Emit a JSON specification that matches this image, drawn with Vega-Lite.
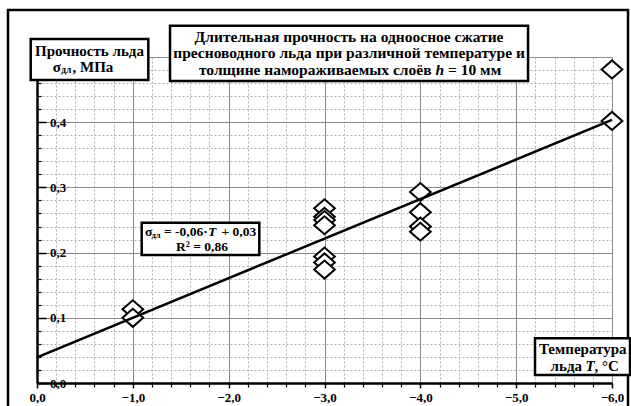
{
  "$schema": "https://vega.github.io/schema/vega-lite/v6.json",
  "width": 575,
  "height": 326,
  "autosize": {"type": "none"},
  "padding": {"left": 37, "top": 57, "right": 19, "bottom": 23},
  "background": "white",
  "config": {"view": {"stroke": "#8c8c8c", "strokeWidth": 1}, "font": "Liberation Serif"},
  "datasets": {
    "points": [
      {"T": -1, "sigma": 0.113},
      {"T": -1, "sigma": 0.100},
      {"T": -3, "sigma": 0.268},
      {"T": -3, "sigma": 0.255},
      {"T": -3, "sigma": 0.250},
      {"T": -3, "sigma": 0.242},
      {"T": -3, "sigma": 0.194},
      {"T": -3, "sigma": 0.185},
      {"T": -3, "sigma": 0.174},
      {"T": -4, "sigma": 0.293},
      {"T": -4, "sigma": 0.262},
      {"T": -4, "sigma": 0.240},
      {"T": -4, "sigma": 0.232},
      {"T": -6, "sigma": 0.481},
      {"T": -6, "sigma": 0.402}
    ],
    "trend": [
      {"T": 0, "sigma": 0.0394},
      {"T": -6, "sigma": 0.4035}
    ],
    "one": [{}]
  },
  "resolve": {"axis": {"x": "independent", "y": "independent"}},
  "layer": [
    {
      "data": {"name": "points"},
      "mark": {"type": "point", "shape": "M-1.15,0L0,-1L1.15,0L0,1Z", "size": 324, "filled": true, "fill": "white", "stroke": "black", "strokeWidth": 2, "opacity": 1},
      "encoding": {
        "x": {
          "field": "T", "type": "quantitative",
          "scale": {"domain": [-6, 0], "reverse": true, "nice": false, "zero": false},
          "axis": {
            "orient": "bottom", "values": [0, -1, -2, -3, -4, -5, -6], "title": null,
            "grid": true, "gridColor": "#8c8c8c", "gridWidth": 1,
            "domain": true, "domainColor": "black", "domainWidth": 2.5,
            "ticks": true, "tickColor": "black", "tickWidth": 1.5, "tickSize": 5,
            "labelExpr": "replace(format(datum.value, '.1f'), '.', ',')",
            "labelFont": "Liberation Serif", "labelFontWeight": "bold", "labelFontSize": 13, "labelColor": "black",
            "labelPadding": 3, "labelFlush": false, "labelOverlap": false, "labelBound": false
          }
        },
        "y": {
          "field": "sigma", "type": "quantitative",
          "scale": {"domain": [0, 0.5], "nice": false, "zero": false},
          "axis": {
            "orient": "left", "values": [0, 0.1, 0.2, 0.3, 0.4], "title": null,
            "grid": true, "gridColor": "#8c8c8c", "gridWidth": 1,
            "domain": true, "domainColor": "black", "domainWidth": 2.5,
            "ticks": true, "tickColor": "black", "tickWidth": 1.5, "tickSize": -9,
            "labelExpr": "replace(format(datum.value, '.1f'), '.', ',')",
            "labelFont": "Liberation Serif", "labelFontWeight": "bold", "labelFontSize": 13, "labelColor": "black",
            "labelAlign": "left", "labelBaseline": "middle", "labelPadding": -3.5,
            "labelFlush": false, "labelOverlap": false, "labelBound": false
          }
        }
      }
    },
    {
      "data": {"name": "trend"},
      "mark": {"type": "line", "color": "black", "strokeWidth": 2.5},
      "encoding": {
        "x": {
          "field": "T", "type": "quantitative",
          "axis": {
            "orient": "bottom", "title": null,
            "values": [-0.2, -0.4, -0.6, -0.8, -1.2, -1.4, -1.6, -1.8, -2.2, -2.4, -2.6, -2.8, -3.2, -3.4, -3.6, -3.8, -4.2, -4.4, -4.6, -4.8, -5.2, -5.4, -5.6, -5.8],
            "grid": true, "gridColor": "#b0b0b0", "gridDash": [2, 2], "gridWidth": 1,
            "domain": false, "labels": false,
            "ticks": true, "tickColor": "black", "tickWidth": 1.2, "tickSize": 4
          }
        },
        "y": {
          "field": "sigma", "type": "quantitative",
          "axis": {
            "orient": "left", "title": null,
            "values": [0.02, 0.04, 0.06, 0.08, 0.12, 0.14, 0.16, 0.18, 0.22, 0.24, 0.26, 0.28, 0.32, 0.34, 0.36, 0.38, 0.42, 0.44, 0.46, 0.48],
            "grid": true, "gridColor": "#b0b0b0", "gridDash": [2, 2], "gridWidth": 1,
            "domain": false, "labels": false,
            "ticks": true, "tickColor": "black", "tickWidth": 1.2, "tickSize": -4
          }
        }
      }
    },
    {
      "data": {"name": "one"},
      "mark": {"type": "rect", "fill": "white", "fillOpacity": 0, "stroke": "black", "strokeWidth": 2.5},
      "encoding": {
        "x": {"datum": 0.3026, "type": "quantitative", "axis": null},
        "x2": {"datum": -6.167},
        "y": {"datum": 0.5721, "type": "quantitative", "axis": null},
        "y2": {"datum": -0.0567}
      }
    },
    {
      "data": {"name": "one"},
      "mark": {"type": "rect", "fill": "white", "stroke": "black", "strokeWidth": 2.5},
      "encoding": {
        "x": {"datum": -1.388, "type": "quantitative", "axis": null},
        "x2": {"datum": -5.124},
        "y": {"datum": 0.548, "type": "quantitative", "axis": null},
        "y2": {"datum": 0.4632}
      }
    },
    {
      "data": {"name": "one"},
      "mark": {"type": "text", "font": "Liberation Serif", "fontWeight": "bold", "fontSize": 15.5, "align": "center", "baseline": "middle", "color": "black"},
      "encoding": {
        "x": {"datum": -3.256, "type": "quantitative", "axis": null},
        "y": {"datum": 0.5314, "type": "quantitative", "axis": null},
        "text": {"value": "Длительная прочность на одноосное сжатие"}
      }
    },
    {
      "data": {"name": "one"},
      "mark": {"type": "text", "font": "Liberation Serif", "fontWeight": "bold", "fontSize": 15.5, "align": "center", "baseline": "middle", "color": "black"},
      "encoding": {
        "x": {"datum": -3.256, "type": "quantitative", "axis": null},
        "y": {"datum": 0.5058, "type": "quantitative", "axis": null},
        "text": {"value": "пресноводного льда при различной температуре и"}
      }
    },
    {
      "data": {"name": "one"},
      "mark": {"type": "text", "font": "Liberation Serif", "fontWeight": "bold", "fontSize": 15.5, "align": "right", "baseline": "middle", "color": "black"},
      "encoding": {
        "x": {"datum": -4.1166, "type": "quantitative", "axis": null},
        "y": {"datum": 0.4804, "type": "quantitative", "axis": null},
        "text": {"value": "толщине намораживаемых слоёв"}
      }
    },
    {
      "data": {"name": "one"},
      "mark": {"type": "text", "font": "Liberation Serif", "fontWeight": "bold", "fontStyle": "italic", "fontSize": 15.5, "align": "left", "baseline": "middle", "color": "black"},
      "encoding": {
        "x": {"datum": -4.1584, "type": "quantitative", "axis": null},
        "y": {"datum": 0.4804, "type": "quantitative", "axis": null},
        "text": {"value": "h"}
      }
    },
    {
      "data": {"name": "one"},
      "mark": {"type": "text", "font": "Liberation Serif", "fontWeight": "bold", "fontSize": 15.5, "align": "left", "baseline": "middle", "color": "black"},
      "encoding": {
        "x": {"datum": -4.2889, "type": "quantitative", "axis": null},
        "y": {"datum": 0.4804, "type": "quantitative", "axis": null},
        "text": {"value": "= 10 мм"}
      }
    },
    {
      "data": {"name": "one"},
      "mark": {"type": "rect", "fill": "white", "stroke": "black", "strokeWidth": 2.5},
      "encoding": {
        "x": {"datum": 0.0657, "type": "quantitative", "axis": null},
        "x2": {"datum": -1.1614},
        "y": {"datum": 0.5276, "type": "quantitative", "axis": null},
        "y2": {"datum": 0.4647}
      }
    },
    {
      "data": {"name": "one"},
      "mark": {"type": "text", "font": "Liberation Serif", "fontWeight": "bold", "fontSize": 15, "align": "center", "baseline": "middle", "color": "black"},
      "encoding": {
        "x": {"datum": -0.5478, "type": "quantitative", "axis": null},
        "y": {"datum": 0.5092, "type": "quantitative", "axis": null},
        "text": {"value": "Прочность льда"}
      }
    },
    {
      "data": {"name": "one"},
      "mark": {"type": "text", "font": "Liberation Serif", "fontWeight": "bold", "fontSize": 15, "align": "right", "baseline": "middle", "color": "black"},
      "encoding": {
        "x": {"datum": -0.2504, "type": "quantitative", "axis": null},
        "y": {"datum": 0.4844, "type": "quantitative", "axis": null},
        "text": {"value": "σ"}
      }
    },
    {
      "data": {"name": "one"},
      "mark": {"type": "text", "font": "Liberation Serif", "fontWeight": "bold", "fontSize": 9.5, "align": "left", "baseline": "middle", "color": "black"},
      "encoding": {
        "x": {"datum": -0.2536, "type": "quantitative", "axis": null},
        "y": {"datum": 0.4798, "type": "quantitative", "axis": null},
        "text": {"value": "дл"}
      }
    },
    {
      "data": {"name": "one"},
      "mark": {"type": "text", "font": "Liberation Serif", "fontWeight": "bold", "fontSize": 15, "align": "left", "baseline": "middle", "color": "black"},
      "encoding": {
        "x": {"datum": -0.3705, "type": "quantitative", "axis": null},
        "y": {"datum": 0.4844, "type": "quantitative", "axis": null},
        "text": {"value": ", МПа"}
      }
    },
    {
      "data": {"name": "one"},
      "mark": {"type": "rect", "fill": "white", "stroke": "black", "strokeWidth": 2.5},
      "encoding": {
        "x": {"datum": -1.0926, "type": "quantitative", "axis": null},
        "x2": {"datum": -2.3198},
        "y": {"datum": 0.2459, "type": "quantitative", "axis": null},
        "y2": {"datum": 0.1963}
      }
    },
    {
      "data": {"name": "one"},
      "mark": {"type": "text", "font": "Liberation Serif", "fontWeight": "bold", "fontSize": 13.5, "align": "left", "baseline": "middle", "color": "black"},
      "encoding": {
        "x": {"datum": -1.127, "type": "quantitative", "axis": null},
        "y": {"datum": 0.2321, "type": "quantitative", "axis": null},
        "text": {"value": "σ"}
      }
    },
    {
      "data": {"name": "one"},
      "mark": {"type": "text", "font": "Liberation Serif", "fontWeight": "bold", "fontSize": 8.5, "align": "left", "baseline": "middle", "color": "black"},
      "encoding": {
        "x": {"datum": -1.1935, "type": "quantitative", "axis": null},
        "y": {"datum": 0.2275, "type": "quantitative", "axis": null},
        "text": {"value": "дл"}
      }
    },
    {
      "data": {"name": "one"},
      "mark": {"type": "text", "font": "Liberation Serif", "fontWeight": "bold", "fontSize": 13.5, "align": "left", "baseline": "middle", "color": "black"},
      "encoding": {
        "x": {"datum": -1.3253, "type": "quantitative", "axis": null},
        "y": {"datum": 0.2321, "type": "quantitative", "axis": null},
        "text": {"value": "= -0,06·"}
      }
    },
    {
      "data": {"name": "one"},
      "mark": {"type": "text", "font": "Liberation Serif", "fontWeight": "bold", "fontStyle": "italic", "fontSize": 13.5, "align": "left", "baseline": "middle", "color": "black"},
      "encoding": {
        "x": {"datum": -1.784, "type": "quantitative", "axis": null},
        "y": {"datum": 0.2321, "type": "quantitative", "axis": null},
        "text": {"value": "T"}
      }
    },
    {
      "data": {"name": "one"},
      "mark": {"type": "text", "font": "Liberation Serif", "fontWeight": "bold", "fontSize": 13.5, "align": "left", "baseline": "middle", "color": "black"},
      "encoding": {
        "x": {"datum": -1.9253, "type": "quantitative", "axis": null},
        "y": {"datum": 0.2321, "type": "quantitative", "axis": null},
        "text": {"value": "+ 0,03"}
      }
    },
    {
      "data": {"name": "one"},
      "mark": {"type": "text", "font": "Liberation Serif", "fontWeight": "bold", "fontSize": 13.5, "align": "center", "baseline": "middle", "color": "black"},
      "encoding": {
        "x": {"datum": -1.7218, "type": "quantitative", "axis": null},
        "y": {"datum": 0.2081, "type": "quantitative", "axis": null},
        "text": {"value": "R² = 0,86"}
      }
    },
    {
      "data": {"name": "one"},
      "mark": {"type": "rect", "fill": "white", "stroke": "black", "strokeWidth": 2.5},
      "encoding": {
        "x": {"datum": -5.1967, "type": "quantitative", "axis": null},
        "x2": {"datum": -6.188},
        "y": {"datum": 0.0686, "type": "quantitative", "axis": null},
        "y2": {"datum": 0.0123}
      }
    },
    {
      "data": {"name": "one"},
      "mark": {"type": "text", "font": "Liberation Serif", "fontWeight": "bold", "fontSize": 15, "align": "center", "baseline": "middle", "color": "black"},
      "encoding": {
        "x": {"datum": -5.6944, "type": "quantitative", "axis": null},
        "y": {"datum": 0.0517, "type": "quantitative", "axis": null},
        "text": {"value": "Температура"}
      }
    },
    {
      "data": {"name": "one"},
      "mark": {"type": "text", "font": "Liberation Serif", "fontWeight": "bold", "fontSize": 15, "align": "right", "baseline": "middle", "color": "black"},
      "encoding": {
        "x": {"datum": -5.687, "type": "quantitative", "axis": null},
        "y": {"datum": 0.0268, "type": "quantitative", "axis": null},
        "text": {"value": "льда"}
      }
    },
    {
      "data": {"name": "one"},
      "mark": {"type": "text", "font": "Liberation Serif", "fontWeight": "bold", "fontStyle": "italic", "fontSize": 15, "align": "left", "baseline": "middle", "color": "black"},
      "encoding": {
        "x": {"datum": -5.723, "type": "quantitative", "axis": null},
        "y": {"datum": 0.0268, "type": "quantitative", "axis": null},
        "text": {"value": "T"}
      }
    },
    {
      "data": {"name": "one"},
      "mark": {"type": "text", "font": "Liberation Serif", "fontWeight": "bold", "fontSize": 15, "align": "left", "baseline": "middle", "color": "black"},
      "encoding": {
        "x": {"datum": -5.8175, "type": "quantitative", "axis": null},
        "y": {"datum": 0.0268, "type": "quantitative", "axis": null},
        "text": {"value": ", °C"}
      }
    }
  ]
}
